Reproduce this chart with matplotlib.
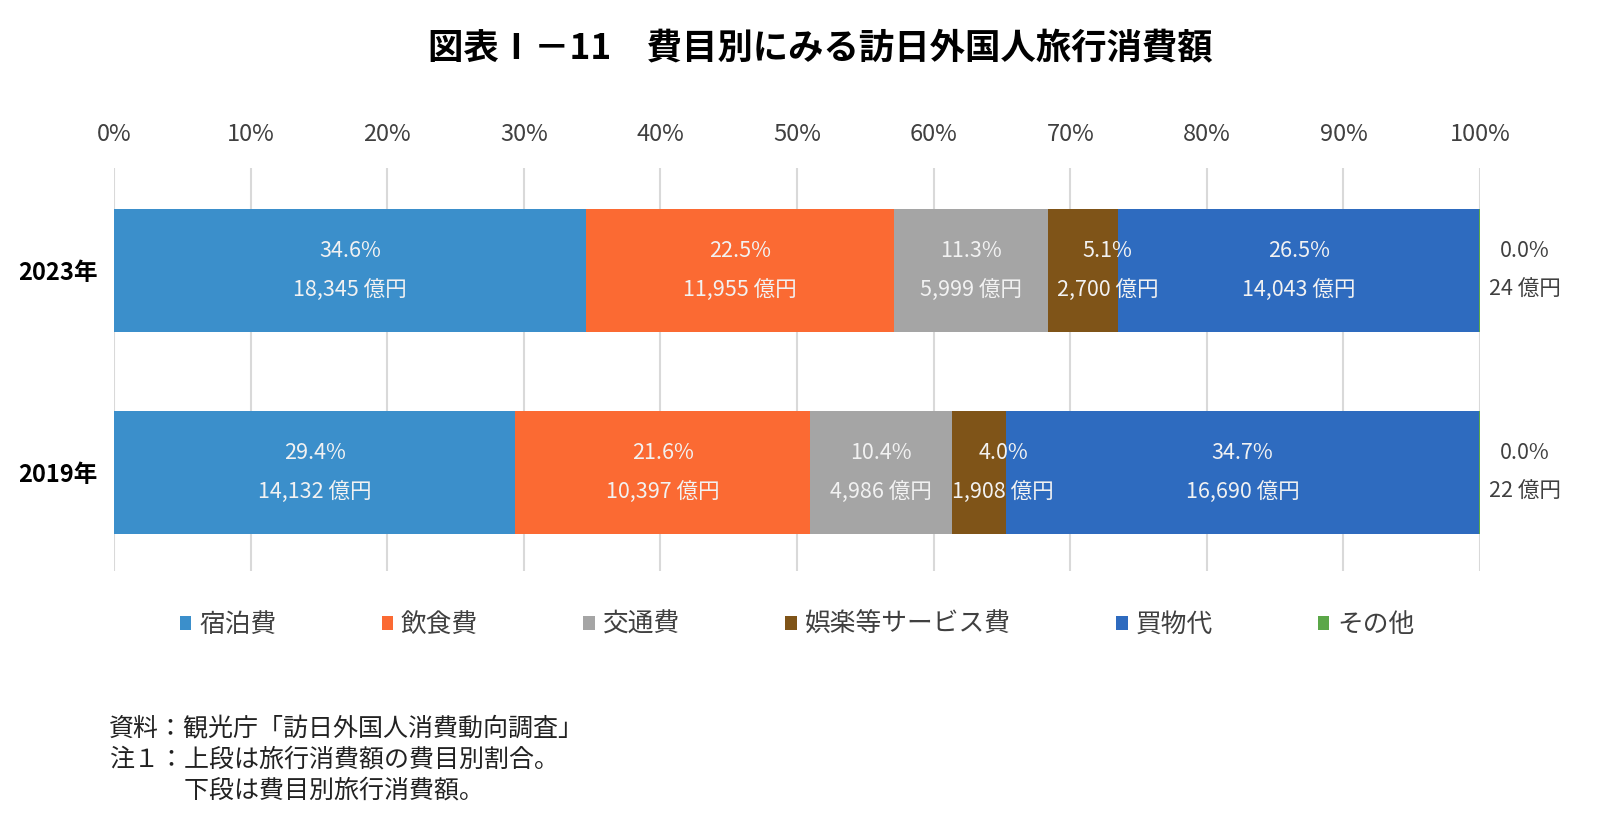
import matplotlib.pyplot as plt
import numpy as np

plt.rcParams['font.family'] = ['Noto Sans CJK JP', 'DejaVu Sans']

# データ
years = ['2019年', '2023年']
categories = ['宿泊費', '飲食費', '交通費', '娯楽等サービス費', '買物代', 'その他']
amounts_2019 = [14132, 10397, 4986, 1908, 16690, 22]
amounts_2023 = [18345, 11955, 5999, 2700, 14043, 24]
colors = ['#3B8FCB', '#FB6A33', '#A5A5A5', '#7F5418', '#2E6BBF', '#5BA748']
ticks = [0, 10, 20, 30, 40, 50, 60, 70, 80, 90, 100]

amounts = np.array([amounts_2019, amounts_2023], dtype=float)
shares = amounts / amounts.sum(axis=1, keepdims=True) * 100

fig = plt.figure(figsize=(16, 8.13), dpi=100)
ax = fig.add_axes([0.07125, 0.2977, 0.8538, 0.4957])

y = np.arange(len(years))
left = np.zeros(len(years))
for i, cat in enumerate(categories):
    ax.barh(y, shares[:, i], left=left, height=0.607, color=colors[i],
            label=cat, zorder=3)
    for j in range(len(years)):
        pct = shares[j, i]
        amt = amounts[j, i]
        if i == len(categories) - 1:
            # その他は棒の外に表示
            xc, col = 103.3, '#404040'
        else:
            xc, col = left[j] + pct / 2, '#F2F2F2'
            if i == 3:
                xc += 1.8  # 娯楽等のラベルは右に少しずらす
        ax.text(xc, y[j] + 0.097, f'{pct:.1f}%', ha='center', va='center',
                fontsize=15.5, color=col, zorder=4)
        ax.text(xc, y[j] - 0.095, f'{int(amt):,} 億円', ha='center', va='center',
                fontsize=15.5, color=col, zorder=4)
    left += shares[:, i]

ax.set_xlim(0, 100)
ax.set_ylim(-0.484, 1.506)
ax.set_xticks(ticks)
ax.set_xticklabels([f'{t}%' for t in ticks], fontsize=17, color='#404040')
ax.xaxis.tick_top()
ax.tick_params(axis='x', length=0, pad=16)
ax.set_yticks(y)
ax.set_yticklabels(years, fontsize=17, fontweight='bold')
ax.tick_params(axis='y', length=0, pad=12)
ax.grid(axis='x', color='#D9D9D9', linewidth=1.5, zorder=0)
for s in ax.spines.values():
    s.set_visible(False)

# タイトル
fig.text(0.5125, 0.94, '図表Ⅰ－11　費目別にみる訪日外国人旅行消費額',
         ha='center', va='center', fontsize=25.5, fontweight='bold')

# 凡例
leg = ax.legend(loc='center', bbox_to_anchor=(0.5, -0.134), ncol=6,
                frameon=False, fontsize=18.5, handlelength=0.45, handleheight=0.45,
                handletextpad=0.3, columnspacing=4.1)
for t in leg.get_texts():
    t.set_color('#404040')

# 注記
notes = ['資料：観光庁「訪日外国人消費動向調査」',
         '注１：上段は旅行消費額の費目別割合。',
         '　　　下段は費目別旅行消費額。']
for k, line in enumerate(notes):
    fig.text(0.068, 1 - (729 + 31 * k) / 813, line, ha='left', va='center',
             fontsize=18, color='#222222')

fig.savefig('out.png', dpi=100, facecolor='white')
